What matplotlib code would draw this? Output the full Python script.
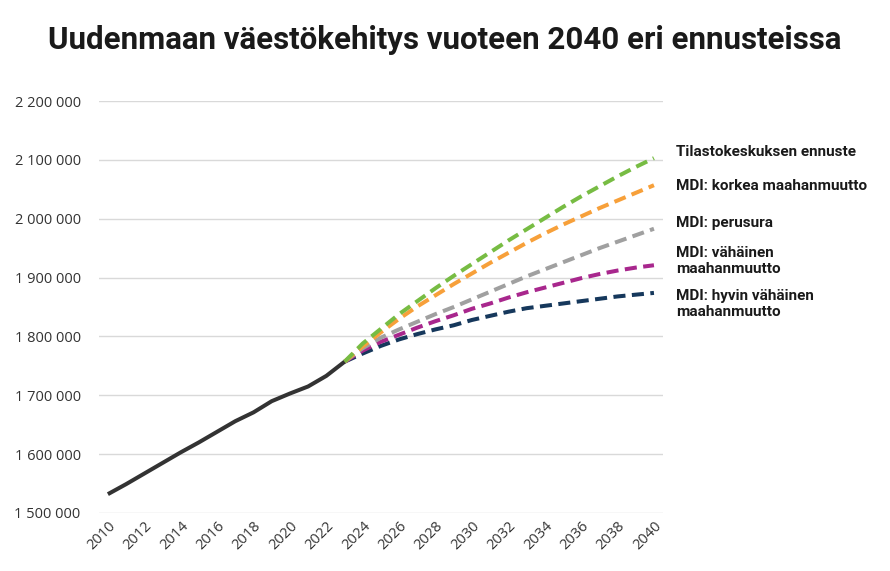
import numpy as np
import matplotlib
matplotlib.use("Agg")
import matplotlib.pyplot as plt
import matplotlib.transforms as mtransforms
from matplotlib.ticker import FuncFormatter

# historical population (thousands), 2010-2023
hist_years = list(range(2010, 2024))
hist_pop = [1532, 1549, 1567, 1585, 1603, 1620, 1638, 1656, 1671, 1690, 1703, 1715, 1733, 1757]

# projections (thousands), 2023-2040
proj_years = list(range(2023, 2041))
tilastokeskus = [1757, 1788, 1813, 1838, 1860, 1882, 1903, 1923, 1943, 1963, 1982, 2001, 2020, 2038, 2055, 2072, 2088, 2103]
mdi_korkea = [1757, 1783, 1807, 1830, 1851, 1870, 1889, 1907, 1925, 1942, 1959, 1975, 1990, 2004, 2018, 2031, 2044, 2057]
mdi_perusura = [1757, 1780, 1798, 1812, 1825, 1838, 1850, 1863, 1876, 1889, 1902, 1914, 1926, 1938, 1950, 1961, 1972, 1983]
mdi_vahainen = [1757, 1776, 1791, 1803, 1815, 1826, 1836, 1847, 1856, 1866, 1875, 1883, 1891, 1899, 1906, 1912, 1917, 1921]
mdi_hyvin_vahainen = [1757, 1771, 1784, 1795, 1804, 1812, 1819, 1828, 1835, 1842, 1848, 1852, 1856, 1860, 1864, 1868, 1871, 1874]

series = [
    ("Tilastokeskuksen ennuste", tilastokeskus, "#77bc43", 2113),
    ("MDI: korkea maahanmuutto", mdi_korkea, "#f7a03a", 2056),
    ("MDI: perusura", mdi_perusura, "#a0a0a0", 1993),
    ("MDI: vähäinen\nmaahanmuutto", mdi_vahainen, "#a8278d", 1928),
    ("MDI: hyvin vähäinen\nmaahanmuutto", mdi_hyvin_vahainen, "#16385c", 1855),
]

fig = plt.figure(figsize=(8.9, 5.71), dpi=100)
ax = fig.add_axes([0.111, 0.1016, 0.634, 0.7214])

for name, vals, col, ylab in series[::-1]:
    ax.plot(proj_years, np.array(vals) * 1000, color=col, lw=2.9,
            linestyle=(0, (3.0, 1.6)), dash_capstyle="butt")

ax.plot(hist_years, np.array(hist_pop) * 1000, color="#333333", lw=2.9,
        solid_capstyle="butt", zorder=5)

trans = mtransforms.blended_transform_factory(ax.transAxes, ax.transData)
for name, vals, col, ylab in series:
    ax.text(1.023, ylab * 1000, name, transform=trans, ha="left", va="center",
            fontsize=11, fontweight="bold", family="Roboto", color="#1a1a1a",
            linespacing=1.2)

ax.set_xlim(2009.5, 2040.5)
ax.set_ylim(1500000, 2200000)
ax.set_yticks(np.arange(1500000, 2200001, 100000))
ax.yaxis.set_major_formatter(FuncFormatter(lambda v, p: f"{int(v):,}".replace(",", " ")))
ax.set_xticks(range(2010, 2041, 2))
ax.grid(axis="y", color="#d9d9d9", lw=1)
ax.set_axisbelow(True)
for s in ax.spines.values():
    s.set_visible(False)
ax.tick_params(length=0, labelsize=10.5, labelcolor="#333333")
ax.tick_params(axis="y", pad=13)
ax.tick_params(axis="x", pad=4)
for lab in ax.get_xticklabels():
    lab.set_rotation(45)
    lab.set_ha("right")
    lab.set_rotation_mode("anchor")
for lab in ax.get_yticklabels() + ax.get_xticklabels():
    lab.set_family("Open Sans")

fig.text(0.5, 0.93, "Uudenmaan väestökehitys vuoteen 2040 eri ennusteissa",
         ha="center", va="center", fontsize=22.5, fontweight="bold",
         family="Roboto", color="#1a1a1a")

fig.savefig("out.png", dpi=100)
